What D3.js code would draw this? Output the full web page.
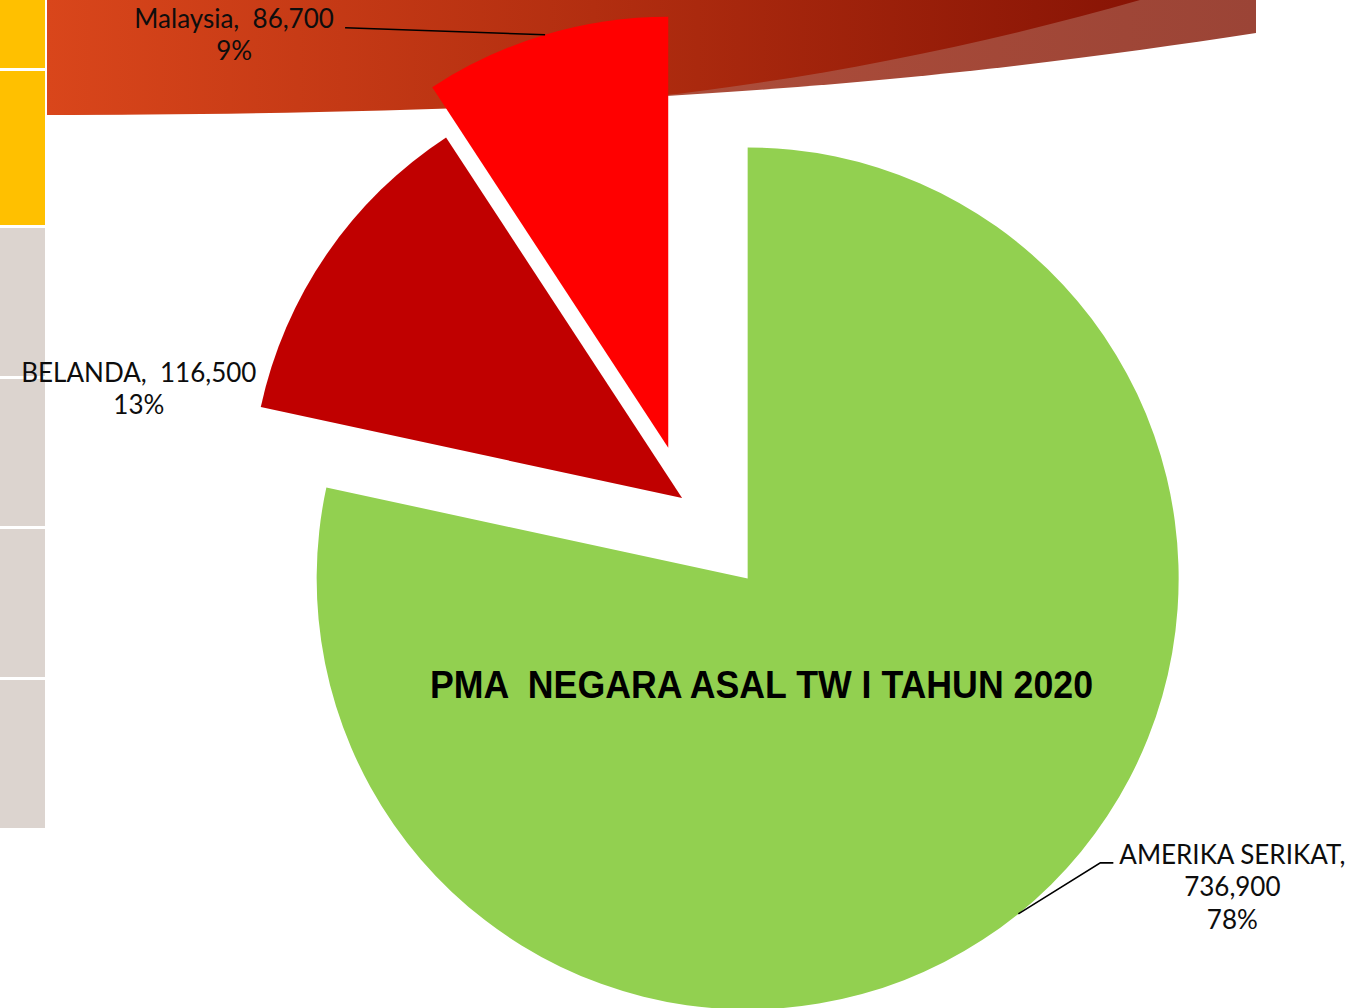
<!DOCTYPE html>
<html>
<head>
<meta charset="utf-8">
<script src="https://cdn.jsdelivr.net/npm/d3@7"></script>
<style>
  html, body { margin: 0; padding: 0; background: #fff; }
  svg { display: block; }
  .lbl { font-family: 'Century Gothic', 'Lato', sans-serif; font-size: 26px; fill: #0d0d0d; white-space: pre; }
  .title { font-family: 'Liberation Sans', Arial, sans-serif; font-weight: bold; font-size: 38px; fill: #000; white-space: pre; }
</style>
</head>
<body>
<svg id="viz" width="1350" height="1008"></svg>
<script>
// values (TW I 2020)
let countries = ["AMERIKA SERIKAT", "BELANDA", "Malaysia"];
let values = [736900, 116500, 86700];
let pctLabels = ["78%", "13%", "9%"];
let colors = ["#92D050", "#C00000", "#FF0000"];
let chartTitle = "PMA  NEGARA ASAL TW I TAHUN 2020";

// layout
let W = 1350, H = 1008;
let cx = 683.5, cy = 499, R = 431;
let explode = [0.237, 0.004, 0.124];   // fraction of radius, like Excel point explosion
let labelLayout = [
	{dx: 214, dy: -50, leader: [[82, -51], [95, -51]]},
	{dx: -188, dy: 128, leader: null},
	{dx: -311, dy: -7, leader: [[-200, -7]]}
];

let svg = d3.select('#viz');

// ---- slide background decoration ----
let defs = svg.append('defs');
let g1 = defs.append('linearGradient').attr('id', 'swoosh').attr('x1', 0).attr('x2', 1).attr('y1', 0).attr('y2', 0);
g1.append('stop').attr('offset', 0).attr('stop-color', '#D9461B');
g1.append('stop').attr('offset', 0.5).attr('stop-color', '#B22E10');
g1.append('stop').attr('offset', 1).attr('stop-color', '#881405');
let g2 = defs.append('linearGradient').attr('id', 'band').attr('x1', 0).attr('x2', 1).attr('y1', 0).attr('y2', 0);
g2.append('stop').attr('offset', 0).attr('stop-color', '#C0573F');
g2.append('stop').attr('offset', 1).attr('stop-color', '#9B4436');

let bg = svg.append('g').attr('class', 'background');
bg.append('path')
	.attr('d', 'M47,0 L1256,0 L1256,33 C1000,72 700,110 47,115 Z')
	.attr('fill', 'url(#band)');
bg.append('path')
	.attr('d', 'M47,0 L1140,0 C950,55 720,96 560,104 C400,112 200,115 47,115 Z')
	.attr('fill', 'url(#swoosh)');

let sideBlocks = [
	{y0: 0, y1: 68, c: '#FFC000'},
	{y0: 71, y1: 225, c: '#FFC000'},
	{y0: 228, y1: 376, c: '#DCD4CF'},
	{y0: 379, y1: 526, c: '#DCD4CF'},
	{y0: 529, y1: 677, c: '#DCD4CF'},
	{y0: 680, y1: 828, c: '#DCD4CF'}
];
bg.selectAll('rect.side')
	.data(sideBlocks)
	.enter()
	.append('rect')
	.attr('class', 'side')
	.attr('x', 0)
	.attr('width', 45)
	.attr('y', d => d.y0)
	.attr('height', d => d.y1 - d.y0)
	.attr('fill', d => d.c);

// ---- pie ----
let fmt = d3.format(",");
let pie = d3.pie().sort(null).startAngle(0).endAngle(2 * Math.PI);
let arcs = pie(values);
let arc = d3.arc().innerRadius(0).outerRadius(R);

function sliceOrigin(d, i){
	let mid = (d.startAngle + d.endAngle) / 2;
	let off = explode[i] * R;
	return [cx + off * Math.sin(mid), cy - off * Math.cos(mid)];
}

function arcMid(d, i){
	let o = sliceOrigin(d, i);
	let mid = (d.startAngle + d.endAngle) / 2;
	return [o[0] + R * Math.sin(mid), o[1] - R * Math.cos(mid)];
}

let pieG = svg.append('g');
pieG.selectAll('path.slice')
	.data(arcs)
	.enter()
	.append('path')
	.attr('class', 'slice')
	.attr('transform', (d, i) => 'translate(' + sliceOrigin(d, i) + ')')
	.attr('d', arc)
	.attr('fill', (d, i) => colors[i]);

// leader lines
arcs.forEach((d, i) => {
	let lay = labelLayout[i];
	if (!lay.leader) return;
	let p = arcMid(d, i);
	let pts = [p].concat(lay.leader.map(q => [p[0] + q[0], p[1] + q[1]]));
	pieG.append('path')
		.attr('d', d3.line()(pts))
		.attr('fill', 'none')
		.attr('stroke', '#000')
		.attr('stroke-width', 1.6);
});

// data labels
arcs.forEach((d, i) => {
	let lay = labelLayout[i];
	let p = arcMid(d, i);
	let lines;
	if (i === 0) lines = [countries[i] + ",", fmt(values[i]), pctLabels[i]];
	else lines = [countries[i] + ",  " + fmt(values[i]), pctLabels[i]];
	let t = pieG.append('text')
		.attr('class', 'lbl')
		.attr('text-anchor', 'middle')
		.attr('x', p[0] + lay.dx)
		.attr('y', p[1] + lay.dy);
	lines.forEach((s, k) => {
		t.append('tspan')
			.attr('x', p[0] + lay.dx)
			.attr('dy', k === 0 ? 0 : 32.5)
			.text(s);
	});
});

// title (sits on the chart like in the slide)
svg.append('text')
	.attr('class', 'title')
	.attr('x', 761.5)
	.attr('y', 698)
	.attr('text-anchor', 'middle')
	.attr('textLength', 663)
	.attr('lengthAdjust', 'spacingAndGlyphs')
	.text(chartTitle);
</script>
</body>
</html>
